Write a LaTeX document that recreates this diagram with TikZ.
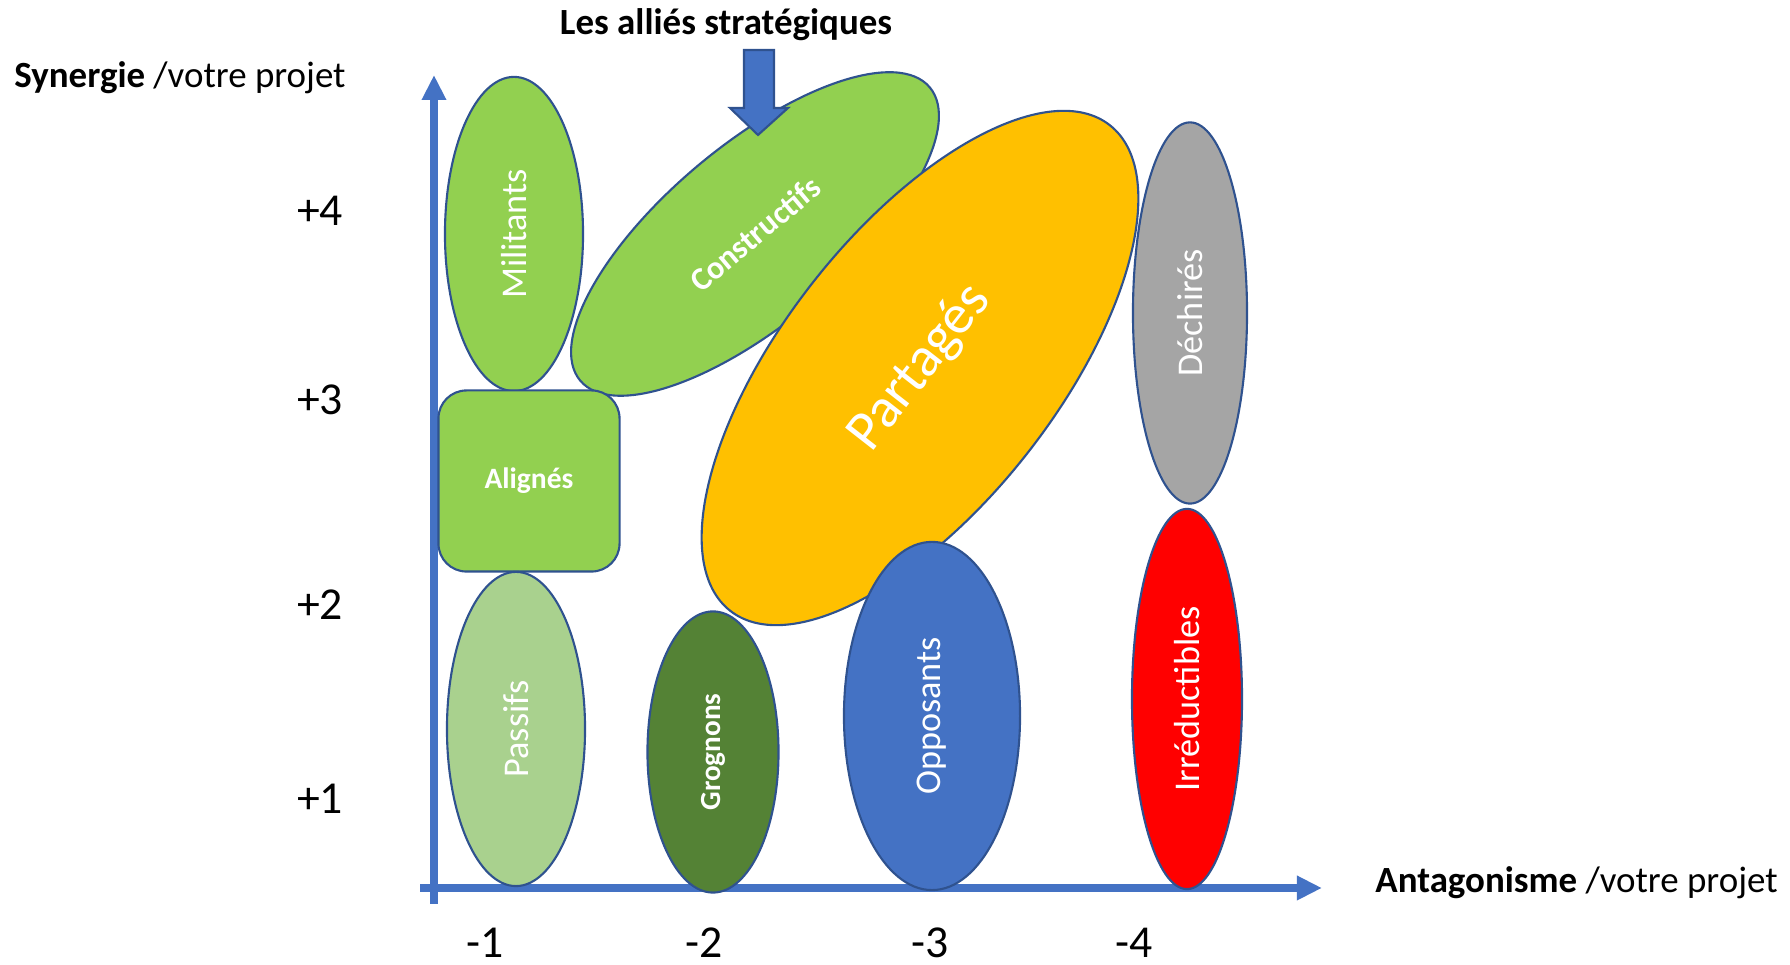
\documentclass[tikz,border=0pt]{standalone}
\usepackage{fontspec}
\setmainfont{Carlito}
\usepackage{tikz}
\usetikzlibrary{shapes.geometric,arrows.meta}
\definecolor{axisblue}{HTML}{4472C4}
\definecolor{edgeblue}{HTML}{2F528F}
\definecolor{leafgreen}{HTML}{92D050}
\definecolor{palegreen}{HTML}{A9D18E}
\definecolor{darkgreen}{HTML}{548235}
\definecolor{gold}{HTML}{FFC000}
\definecolor{midgray}{HTML}{A5A5A5}

\begin{document}
\begin{tikzpicture}[x=0.01cm,y=-0.01cm,
    blob/.style={ellipse,draw=edgeblue,line width=0.6pt,inner sep=0pt,text=white,
      font=\fontsize{10.3}{12}\selectfont},
    axis/.style={axisblue,line width=2pt,-{Triangle[length=0.25cm,width=0.23cm]}},
    title/.style={font=\fontsize{10.5}{12}\selectfont},
    tick/.style={inner sep=0pt,font=\fontsize{13}{15}\selectfont}]
      \useasboundingbox (0,0) rectangle (1790,965);

      \coordinate (ybot) at (434,904); \coordinate (ytop) at (434,75);
      \coordinate (xleft) at (420,888); \coordinate (xright) at (1322,888);
      \draw[axis] (ybot) -- (ytop);
      \draw[axis] (xleft) -- (xright);

      \node[blob,fill=leafgreen,rotate=40,minimum width=4.56cm,minimum height=1.78cm,
        font=\bfseries\fontsize{9.2}{11}\selectfont] (cons) at (755,234) {Constructifs};
      \node[blob,fill=leafgreen,rotate=90,minimum width=3.14cm,minimum height=1.38cm] (mil) at (514,234) {Militants};
      \node[draw=edgeblue,line width=0.6pt,fill=leafgreen,rounded corners=0.28cm,minimum size=1.81cm,
        text=white,font=\bfseries\fontsize{8.4}{10}\selectfont] (ali) at (529,481) {Alignés};
      \node[blob,fill=gold,rotate=52,minimum width=6.16cm,minimum height=2.74cm,
        font=\fontsize{16}{19}\selectfont] (part) at (920,368) {Partagés};
      \node[blob,fill=midgray,rotate=90,minimum width=3.81cm,minimum height=1.14cm] (dech) at (1190,313) {Déchirés};
      \node[blob,fill=palegreen,rotate=90,minimum width=3.14cm,minimum height=1.38cm] (pas) at (516,729) {Passifs};
      \node[blob,fill=darkgreen,rotate=90,minimum width=2.81cm,minimum height=1.31cm,
        font=\bfseries\fontsize{8.3}{10}\selectfont] (grog) at (713,752) {Grognons};
      \node[blob,fill=axisblue,rotate=90,minimum width=3.48cm,minimum height=1.76cm] (opp) at (932,716) {Opposants};
      \node[blob,fill=red,rotate=90,minimum width=3.80cm,minimum height=1.10cm] (irr) at (1187,699) {Irréductibles};

      \draw[fill=axisblue,draw=edgeblue,line width=0.6pt] (744,50) -- (774,50) -- (774,108) -- (788,108)
        -- (758,135) -- (730,108) -- (744,108) -- cycle;

      \node[title] (syn) at (180,78) {\textbf{Synergie} /votre projet};
      \node[title] (allies) at (726,25) {\textbf{Les alliés stratégiques}};
      \node[title,anchor=west] (ant) at (1363,883) {\textbf{Antagonisme} /votre projet};

      \foreach \y/\t [count=\i] in {211/+4,400/+3,605/+2,799/+1}
        \node[tick] (ty\i) at (320,\y) {\t};
      \foreach \x/\t [count=\i] in {485/-1,704/-2,930/-3,1134/-4}
        \node[tick] (tx\i) at (\x,943) {\t};
    \end{tikzpicture}
\end{document}
